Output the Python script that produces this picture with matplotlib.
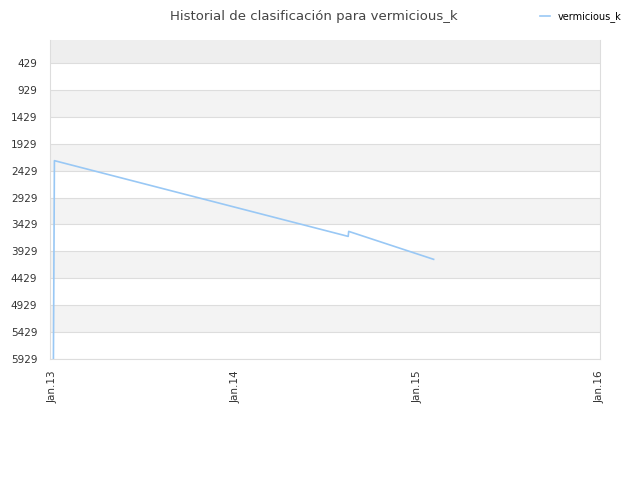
import numpy as np
import pandas as pd
import matplotlib
matplotlib.use("Agg")
import matplotlib.pyplot as plt
import matplotlib.dates as mdates

# datos
fechas = pd.to_datetime(["2013-01-02", "2013-01-04", "2014-08-15", "2014-08-16", "2015-02-02"])
posicion = [5929, 2244, 3651, 3558, 4077]

y_ticks = [429, 929, 1429, 1929, 2429, 2929, 3429, 3929, 4429, 4929, 5429, 5929]
x_ticks = pd.to_datetime(["2013-01-01", "2014-01-01", "2015-01-01", "2016-01-01"])
x_labels = ["Jan.13", "Jan.14", "Jan.15", "Jan.16"]

fig = plt.figure(figsize=(6.4, 4.8), dpi=100)
ax = fig.add_axes([0.078, 0.252, 0.8595, 0.665])

# bandas grises alternas
ax.axhspan(0, 429, color="#eeeeee", zorder=0, lw=0)
for a, b in zip(y_ticks[1::2], y_ticks[2::2]):
    ax.axhspan(a, b, color="#f3f3f3", zorder=0, lw=0)

ax.plot(fechas, posicion, color="#99c8f5", lw=1.2, label="vermicious_k", zorder=3)

ax.set_ylim(5929, 0)
ax.set_xlim(pd.Timestamp("2012-12-26"), pd.Timestamp("2016-01-01"))
ax.set_yticks(y_ticks)
ax.set_yticklabels([str(v) for v in y_ticks])
ax.set_xticks(x_ticks)
ax.set_xticklabels(x_labels, rotation=90)
ax.grid(axis="y", color="#dddddd", lw=0.8, zorder=1)
ax.tick_params(axis="both", labelsize=7.5, colors="#333333", length=0)
ax.tick_params(axis="y", pad=9)
ax.tick_params(axis="x", pad=8)
for s in ["left", "bottom", "right"]:
    ax.spines[s].set_color("#dddddd")
ax.spines["top"].set_visible(False)

fig.text(0.49, 0.965, "Historial de clasificación para vermicious_k", ha="center", va="center",
         fontsize=9.5, color="#444444")
fig.legend(loc="upper right", bbox_to_anchor=(0.985, 0.995), frameon=False, fontsize=7,
           handlelength=1.0, handletextpad=0.8)

fig.savefig("out.png", dpi=100)
